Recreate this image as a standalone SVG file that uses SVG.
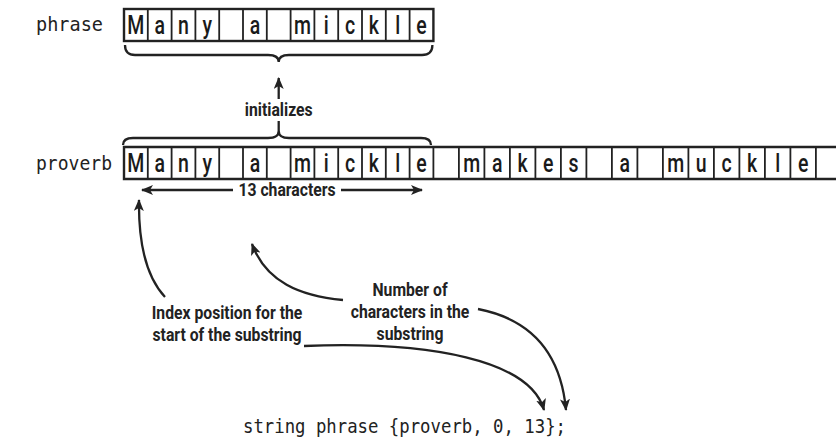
<svg xmlns="http://www.w3.org/2000/svg" width="836" height="442" viewBox="0 0 836 442">
<defs>
<style>
.mono{font-family:"DejaVu Sans Mono","Liberation Mono",monospace;font-size:20px;fill:#222}
.cell{font-family:Roboto,"Liberation Sans",Arial,sans-serif;font-size:25px;font-weight:500;fill:#1a1a1a;text-anchor:middle}
.lbl{font-family:Roboto,"Liberation Sans",Arial,sans-serif;font-size:17.5px;font-weight:bold;fill:#222;text-anchor:middle}
.box{fill:#fff;stroke:#222;stroke-width:2.4}
.grid{fill:none;stroke:#222;stroke-width:1.8}
.brace{fill:none;stroke:#222;stroke-width:2.3}
.con{fill:none;stroke:#222;stroke-width:2.3}
</style>
<marker id="ah" viewBox="0 0 12 10" refX="11" refY="5" markerWidth="12" markerHeight="10" markerUnits="userSpaceOnUse" orient="auto">
<path d="M0,0 L12,5 L0,10 L3,5 z" fill="#222"/>
</marker>
</defs>
<rect width="836" height="442" fill="#fff"/>

<g id="phrase-label"><text class="mono" x="36" y="31" textLength="67" lengthAdjust="spacingAndGlyphs">phrase</text></g>
<g id="phrase-row">
<rect class="box" x="124" y="9" width="309.4" height="32"/>
<path class="grid" d="M147.8,9V41M171.6,9V41M195.4,9V41M219.2,9V41M243,9V41M266.8,9V41M290.6,9V41M314.4,9V41M338.2,9V41M362,9V41M385.8,9V41M409.6,9V41"/>
<text class="cell" y="34.5" transform="scale(0.78,1)"><tspan x="174.23">M</tspan><tspan x="204.74">a</tspan><tspan x="235.26">n</tspan><tspan x="265.77">y</tspan><tspan x="326.79">a</tspan><tspan x="387.82">m</tspan><tspan x="418.33">i</tspan><tspan x="448.85">c</tspan><tspan x="479.36">k</tspan><tspan x="509.87">l</tspan><tspan x="540.38">e</tspan></text>
</g>

<g id="proverb-label"><text class="mono" x="36" y="170" textLength="76" lengthAdjust="spacingAndGlyphs">proverb</text></g>
<g id="proverb-row">
<path class="box" d="M836,147H124V179H836"/>
<path class="grid" d="M147.8,147V179M171.6,147V179M195.4,147V179M219.2,147V179M243,147V179M266.8,147V179M290.6,147V179M314.4,147V179M338.2,147V179M362,147V179M385.8,147V179M409.6,147V179M433.4,147V179M458.9,147V179M484.4,147V179M509.9,147V179M535.4,147V179M560.9,147V179M586.4,147V179M611.9,147V179M637.4,147V179M662.9,147V179M688.4,147V179M713.9,147V179M739.4,147V179M764.9,147V179M790.4,147V179M815.9,147V179"/>
<text class="cell" y="172.5" transform="scale(0.78,1)"><tspan x="174.23">M</tspan><tspan x="204.74">a</tspan><tspan x="235.26">n</tspan><tspan x="265.77">y</tspan><tspan x="326.79">a</tspan><tspan x="387.82">m</tspan><tspan x="418.33">i</tspan><tspan x="448.85">c</tspan><tspan x="479.36">k</tspan><tspan x="509.87">l</tspan><tspan x="540.38">e</tspan><tspan x="604.68">m</tspan><tspan x="637.37">a</tspan><tspan x="670.06">k</tspan><tspan x="702.76">e</tspan><tspan x="735.45">s</tspan><tspan x="800.83">a</tspan><tspan x="866.22">m</tspan><tspan x="898.91">u</tspan><tspan x="931.6">c</tspan><tspan x="964.29">k</tspan><tspan x="997">l</tspan><tspan x="1029.68">e</tspan></text>
</g>

<g id="braces">
<path class="brace" d="M125,45 Q125,55 135,55 L268,55 Q278.7,55 278.7,62 Q278.7,55 289,55 L422,55 Q432.4,55 432.4,45"/>
<path class="brace" d="M123,145 Q123,138 133,138 L268,138 Q278.7,138 278.7,131 Q278.7,138 289,138 L421,138 Q431,138 431,145"/>
</g>

<g id="initializes"><text class="lbl" transform="translate(278.7,0) scale(0.9,1)" y="116">initializes</text></g>
<g id="count-label"><text class="lbl" transform="translate(287,0) scale(0.9,1)" y="196">13 characters</text></g>
<g id="index-note"><text class="lbl" transform="translate(227,0) scale(0.9,1)"><tspan x="0" y="319">Index position for the</tspan><tspan x="0" y="341">start of the substring</tspan></text></g>
<g id="number-note"><text class="lbl" transform="translate(410,0) scale(0.9,1)"><tspan x="0" y="296">Number of</tspan><tspan x="0" y="318">characters in the</tspan><tspan x="0" y="340">substring</tspan></text></g>
<g id="code"><text class="mono" x="243" y="433" textLength="323" lengthAdjust="spacingAndGlyphs">string phrase {proverb, 0, 13};</text></g>

<g id="connectors">
<path class="con" d="M278.7,99 V78" marker-end="url(#ah)"/>
<path class="con" d="M278.7,121 V131"/>
<path class="con" d="M233,190 H142" marker-end="url(#ah)"/>
<path class="con" d="M341,190 H422" marker-end="url(#ah)"/>
<path class="con" d="M165,297 Q138,268 139,200" marker-end="url(#ah)"/>
<path class="con" d="M343,300 C300,296 266,282 252,244" marker-end="url(#ah)"/>
<path class="con" d="M304,346 C430,341 530,360 544,410" marker-end="url(#ah)"/>
<path class="con" d="M478,309 C524,318 560,345 566,410" marker-end="url(#ah)"/>
</g>
</svg>
